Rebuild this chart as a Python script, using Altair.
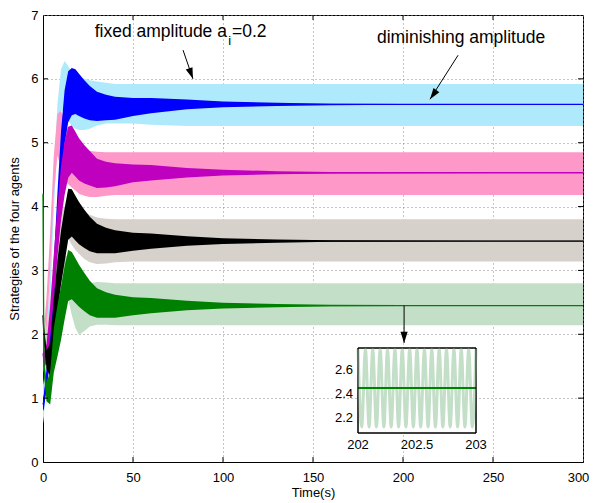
import altair as alt
import pandas as pd

# ---------------- data ----------------
T = [0, 0.5, 2, 4, 6, 8, 10, 12, 14, 16, 18, 20, 23, 26, 30, 35, 40, 50, 60, 80,
     100, 130, 160, 200, 250, 300]

# half-width of the diminishing-amplitude oscillation (same for all agents)
DIM_HALF = [0.1, 0.12, 0.15, 0.25, 0.35, 0.4, 0.42, 0.42, 0.4, 0.37,
            0.35, 0.33, 0.3, 0.27, 0.23, 0.2, 0.18, 0.14, 0.12, 0.075,
            0.045, 0.025, 0.012, 0.007, 0.004, 0.003]

# centres of the diminishing-amplitude trajectories
BLUE_DIM = [0.9, 0.95, 1.3, 1.85, 2.8, 3.8, 4.75, 5.4, 5.72, 5.8,
            5.8, 5.75, 5.68, 5.62, 5.57, 5.55, 5.54, 5.56, 5.58, 5.6,
            5.6, 5.6, 5.6, 5.6, 5.6, 5.6]
MAG_DIM = [1.7, 1.6, 1.7, 2.2, 2.9, 3.6, 4.2, 4.6, 4.85, 4.9,
           4.82, 4.74, 4.66, 4.6, 4.52, 4.5, 4.5, 4.52, 4.53, 4.53,
           4.53, 4.53, 4.53, 4.53, 4.53, 4.53]
BLACK_DIM = [2.3, 2.0, 1.6, 1.6, 2.2, 2.75, 3.2, 3.55, 3.88, 3.9,
             3.82, 3.74, 3.65, 3.57, 3.5, 3.47, 3.45, 3.45, 3.46, 3.46,
             3.46, 3.46, 3.46, 3.46, 3.46, 3.46]
GREEN_DIM = [4.2, 1.5, 1.1, 1.15, 1.75, 2.05, 2.33, 2.65, 2.92, 2.92,
             2.84, 2.76, 2.66, 2.57, 2.49, 2.46, 2.44, 2.44, 2.45, 2.45,
             2.45, 2.45, 2.45, 2.45, 2.45, 2.45]

# envelopes of the fixed-amplitude (a_i = 0.2) trajectories
BLUE_FIX_HI = [1.2, 1.3, 1.9, 3.1, 4.5, 5.6, 6.15, 6.28, 6.2, 6.1,
               6.05, 6.02, 6.0, 5.98, 5.96, 5.94, 5.92, 5.92, 5.92, 5.92,
               5.92, 5.92, 5.92, 5.92, 5.92, 5.92]
BLUE_FIX_LO = [0.6, 0.7, 1.3, 2.5, 3.9, 5.0, 5.5, 5.5, 5.35, 5.26,
               5.22, 5.2, 5.2, 5.22, 5.27, 5.3, 5.3, 5.3, 5.28, 5.26,
               5.26, 5.26, 5.26, 5.26, 5.26, 5.26]
PINK_FIX_HI = [2.0, 2.1, 2.6, 3.6, 4.8, 5.45, 5.5, 5.35, 5.2, 5.1,
               5.0, 4.95, 4.9, 4.87, 4.86, 4.85, 4.85, 4.85, 4.85, 4.85,
               4.85, 4.85, 4.85, 4.85, 4.85, 4.85]
PINK_FIX_LO = [1.4, 1.5, 2.0, 3.0, 4.2, 4.8, 4.6, 4.42, 4.35, 4.3,
               4.25, 4.2, 4.17, 4.15, 4.15, 4.17, 4.18, 4.18, 4.18, 4.18,
               4.18, 4.18, 4.18, 4.18, 4.18, 4.18]
GREY_FIX_HI = [2.6, 2.3, 2.1, 2.5, 3.2, 3.7, 3.9, 4.0, 4.1, 4.08,
               4.03, 3.98, 3.92, 3.87, 3.83, 3.81, 3.8, 3.8, 3.8, 3.8,
               3.8, 3.8, 3.8, 3.8, 3.8, 3.8]
GREY_FIX_LO = [2.0, 1.7, 1.5, 1.9, 2.6, 3.0, 3.2, 3.4, 3.5, 3.4,
               3.32, 3.26, 3.18, 3.13, 3.1, 3.11, 3.13, 3.14, 3.14, 3.14,
               3.14, 3.14, 3.14, 3.14, 3.14, 3.14]
GREEN_FIX_HI = [4.5, 1.9, 1.5, 1.7, 2.3, 2.8, 3.1, 3.25, 3.2, 3.0,
                2.8, 2.75, 2.78, 2.8, 2.82, 2.81, 2.8, 2.8, 2.8, 2.8,
                2.8, 2.8, 2.8, 2.8, 2.8, 2.8]
GREEN_FIX_LO = [3.9, 1.3, 0.9, 1.1, 1.7, 2.2, 2.5, 2.6, 2.55, 2.3,
                2.1, 1.99, 2.05, 2.12, 2.15, 2.15, 2.14, 2.14, 2.14, 2.14,
                2.14, 2.14, 2.14, 2.14, 2.14, 2.14]

X_TICKS = [0, 50, 100, 150, 200, 250, 300]
Y_TICKS = [0, 1, 2, 3, 4, 5, 6, 7]

# inset (zoom of the fixed-amplitude green trajectory, 202 s .. 203 s)
INSET_XDOM = [202, 203]
INSET_YDOM = [2.08, 2.78]
INSET_XTICKS = [202, 202.5, 203]
INSET_YTICKS = [2.2, 2.4, 2.6]
INSET_WAVE_T = [202.0, 202.031, 202.063, 202.094, 202.125, 202.156, 202.188, 202.219,
                202.25, 202.281, 202.313, 202.344, 202.375, 202.406, 202.438, 202.469,
                202.5, 202.531, 202.563, 202.594, 202.625, 202.656, 202.688, 202.719,
                202.75, 202.781, 202.813, 202.844, 202.875, 202.906, 202.938, 202.969, 203.0]
INSET_WAVE_V = [2.77, 2.13, 2.77, 2.13, 2.77, 2.13, 2.77, 2.13,
                2.77, 2.13, 2.77, 2.13, 2.77, 2.13, 2.77, 2.13,
                2.77, 2.13, 2.77, 2.13, 2.77, 2.13, 2.77, 2.13,
                2.77, 2.13, 2.77, 2.13, 2.77, 2.13, 2.77, 2.13, 2.77]
INSET_DIM_V = 2.45

# annotations
ANN_TEXT = ["fixed amplitude a", "i", "=0.2", "diminishing amplitude"]
ANN_T = [102.2, 102.9, 105.0, 185.5]
ANN_V = [6.73, 6.59, 6.73, 6.64]
ARROW_T0 = [77.8, 230.6, 200.6]
ARROW_V0 = [6.45, 6.37, 2.45]
ARROW_T1 = [83.3, 215.0, 200.6]
ARROW_V1 = [6.0, 5.68, 1.865]

# ---------------- styles ----------------
FONT = "Liberation Sans"
LIGHT = ["#aeeafb", "#fd98c9", "#d6d1cb", "#c3dfc8"]
DARK = ["#0000ff", "#bf00bf", "#000000", "#008000"]
ARROW_ANGLE = [340, 35, 0]
ARROW_HEAD = "M0,0 L-0.32,-1 L0.32,-1 Z"
PLOT_W, PLOT_H = 540, 447
TICK_PX = 5  # inward tick length in pixels

# ---------------- main plot ----------------
xs = alt.Scale(domain=[0, 300], nice=False, zero=False)
ys = alt.Scale(domain=[0, 7], nice=False, zero=False)
x_axis = alt.Axis(values=X_TICKS, title="Time(s)", grid=True, ticks=False,
                  labelPadding=9, titlePadding=2, format="d", labelFlush=False,
                  labelOffset={"condition": {"test": "datum.value == 300", "value": -5},
                               "value": 0})
y_axis = alt.Axis(values=Y_TICKS, title="Strategies of the four agents", grid=True,
                  ticks=False, labelPadding=5, titlePadding=9, format="d", labelFlush=False)


def X(field):
    return alt.X(field, type="quantitative", scale=xs, axis=x_axis)


def Y(field):
    return alt.Y(field, type="quantitative", scale=ys, axis=y_axis)


layers = []
fix_bands = [(BLUE_FIX_LO, BLUE_FIX_HI), (PINK_FIX_LO, PINK_FIX_HI),
             (GREY_FIX_LO, GREY_FIX_HI), (GREEN_FIX_LO, GREEN_FIX_HI)]
for (lo, hi), col in zip(fix_bands, LIGHT):
    df = pd.DataFrame({"t": T, "lo": lo, "hi": hi})
    layers.append(alt.Chart(df).mark_area(color=col, opacity=1).encode(
        x=X("t"), y=Y("lo"), y2=alt.Y2("hi")))

dims = [BLUE_DIM, MAG_DIM, BLACK_DIM, GREEN_DIM]
for c, col in zip(dims, DARK):
    df = pd.DataFrame({"t": T,
                       "lo": [a - h for a, h in zip(c, DIM_HALF)],
                       "hi": [a + h for a, h in zip(c, DIM_HALF)],
                       "c": c})
    layers.append(alt.Chart(df).mark_area(color=col, opacity=1).encode(
        x=X("t"), y=Y("lo"), y2=alt.Y2("hi")))
    layers.append(alt.Chart(df).mark_line(color=col, strokeWidth=1.3).encode(
        x=X("t"), y=Y("c")))

# inward tick marks on all four sides (MATLAB style)
tx = TICK_PX * 300 / PLOT_W
ty = TICK_PX * 7 / PLOT_H
xt = pd.DataFrame({"t": X_TICKS[1:-1]})
yt = pd.DataFrame({"v": Y_TICKS[1:-1]})
layers += [
    alt.Chart(xt).mark_rule(color="black").encode(x=X("t"), y=alt.datum(0, scale=ys), y2=alt.datum(ty)),
    alt.Chart(xt).mark_rule(color="black").encode(x=X("t"), y=alt.datum(7, scale=ys), y2=alt.datum(7 - ty)),
    alt.Chart(yt).mark_rule(color="black").encode(y=Y("v"), x=alt.datum(0, scale=xs), x2=alt.datum(tx)),
    alt.Chart(yt).mark_rule(color="black").encode(y=Y("v"), x=alt.datum(300, scale=xs), x2=alt.datum(300 - tx)),
]

# annotation texts
ann = pd.DataFrame({"label": ANN_TEXT, "t": ANN_T, "v": ANN_V})
layers.append(alt.Chart(ann.iloc[[0]]).mark_text(
    font=FONT, fontSize=17.5, align="right", baseline="middle", color="black").encode(
    x=X("t"), y=Y("v"), text="label"))
layers.append(alt.Chart(ann.iloc[[1]]).mark_text(
    font=FONT, fontSize=13, align="left", baseline="middle", color="black").encode(
    x=X("t"), y=Y("v"), text="label"))
layers.append(alt.Chart(ann.iloc[[2, 3]]).mark_text(
    font=FONT, fontSize=17.5, align="left", baseline="middle", color="black").encode(
    x=X("t"), y=Y("v"), text="label"))

# arrows
arr = pd.DataFrame({"t0": ARROW_T0, "v0": ARROW_V0, "t1": ARROW_T1, "v1": ARROW_V1})
layers.append(alt.Chart(arr).mark_rule(color="black", strokeWidth=1).encode(
    x=X("t0"), y=Y("v0"), x2=alt.X2("t1"), y2=alt.Y2("v1")))
for i, ang in enumerate(ARROW_ANGLE):
    layers.append(alt.Chart(arr.iloc[[i]]).mark_point(
        shape=ARROW_HEAD, filled=True, color="black", opacity=1, size=500,
        angle=ang, strokeWidth=0).encode(x=X("t1"), y=Y("v1")))

main = alt.layer(*layers)

# ---------------- inset ----------------
xi_s = alt.Scale(domain=INSET_XDOM, range=[315, 433], nice=False, zero=False)
yi_s = alt.Scale(domain=INSET_YDOM, range=[418, 333], nice=False, zero=False)


def XI(field):
    return alt.X(field, type="quantitative", scale=xi_s, axis=None)


def YI(field):
    return alt.Y(field, type="quantitative", scale=yi_s, axis=None)


box = pd.DataFrame({"t0": [INSET_XDOM[0]], "t1": [INSET_XDOM[1]],
                    "v0": [INSET_YDOM[0]], "v1": [INSET_YDOM[1]]})
wave = pd.DataFrame({"t": INSET_WAVE_T, "v": INSET_WAVE_V})
dimline = pd.DataFrame({"t": INSET_XDOM, "v": [INSET_DIM_V, INSET_DIM_V]})
xlab = pd.DataFrame({"t": INSET_XTICKS, "v": [INSET_YDOM[0]] * len(INSET_XTICKS),
                     "label": ["202", "202.5", "203"]})
ylab = pd.DataFrame({"t": [INSET_XDOM[0]] * len(INSET_YTICKS), "v": INSET_YTICKS,
                     "label": ["2.2", "2.4", "2.6"]})

inset = alt.layer(
    alt.Chart(box).mark_rect(fill="white", stroke="black", strokeWidth=1).encode(
        x=XI("t0"), x2=alt.X2("t1"), y=YI("v0"), y2=alt.Y2("v1")),
    alt.Chart(wave).mark_line(color=LIGHT[3], strokeWidth=3, interpolate="monotone").encode(
        x=XI("t"), y=YI("v")),
    alt.Chart(dimline).mark_line(color=DARK[3], strokeWidth=2).encode(
        x=XI("t"), y=YI("v")),
    alt.Chart(box).mark_rect(fill=None, stroke="black", strokeWidth=1).encode(
        x=XI("t0"), x2=alt.X2("t1"), y=YI("v0"), y2=alt.Y2("v1")),
    alt.Chart(xlab).mark_text(font=FONT, fontSize=13, baseline="top", dy=6,
                              color="black").encode(x=XI("t"), y=YI("v"), text="label"),
    alt.Chart(ylab).mark_text(font=FONT, fontSize=13, align="right", baseline="middle",
                              dx=-5, color="black").encode(x=XI("t"), y=YI("v"), text="label"),
)

chart = alt.layer(main, inset).resolve_scale(
    x="independent", y="independent"
).properties(
    width=PLOT_W, height=PLOT_H,
    autosize=alt.AutoSizeParams(type="none"),
    padding={"left": 35, "top": 7, "right": 6, "bottom": 41},
).configure_view(
    stroke="black", strokeWidth=1
).configure_axis(
    labelFont=FONT, titleFont=FONT, labelFontSize=13, titleFontSize=13,
    titleFontWeight="normal", labelColor="black", titleColor="black",
    domainColor="black", domainWidth=1,
    gridColor="#8c8c8c", gridDash=[1, 3], gridWidth=1,
)

chart.save("out.html", embed_options={"renderer": "svg", "actions": False})
